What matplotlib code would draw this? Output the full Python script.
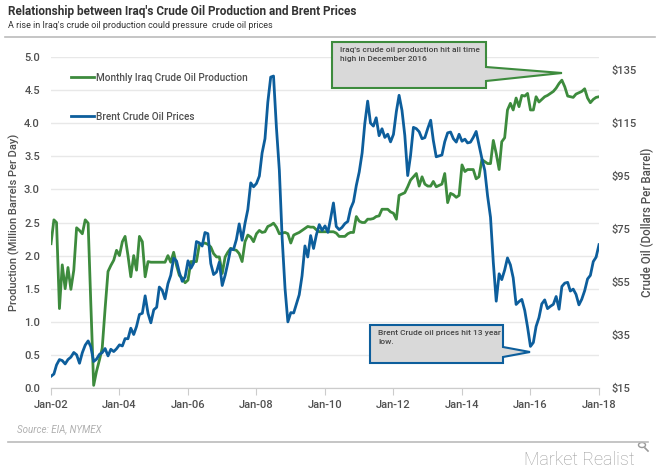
import matplotlib
matplotlib.use("Agg")
import matplotlib.pyplot as plt
import matplotlib.dates as mdates
from matplotlib.patches import Polygon, Circle
import pandas as pd

# ---- data (monthly, Jan-2002 .. Jan-2018) ----
months = pd.date_range("2002-01-01", "2018-01-01", freq="MS")

# Iraq crude oil production, million barrels per day
iraq_prod = [
    2.18, 2.54, 2.50, 1.20, 1.86, 1.50, 1.82, 1.49, 1.78, 2.42, 2.38, 2.33,  # 2002
    2.54, 2.49, 1.30, 0.04, 0.25, 0.42, 0.60, 1.20, 1.76, 1.85, 1.93, 2.08,  # 2003
    2.00, 2.21, 2.29, 2.00, 1.68, 2.00, 1.78, 2.29, 2.21, 1.68, 1.91, 1.90,  # 2004
    1.90, 1.90, 1.90, 1.90, 1.90, 2.00, 1.90, 2.05, 1.85, 1.70, 1.66, 1.59,  # 2005
    1.63, 1.91, 1.91, 1.91, 2.16, 2.18, 2.19, 2.17, 2.13, 2.03, 1.98, 1.98,  # 2006
    1.73, 1.98, 2.05, 2.11, 2.09, 2.08, 2.03, 1.91, 2.21, 2.31, 2.28, 2.21,  # 2007
    2.33, 2.38, 2.35, 2.36, 2.44, 2.46, 2.49, 2.43, 2.33, 2.34, 2.35, 2.33,  # 2008
    2.19, 2.31, 2.33, 2.35, 2.38, 2.41, 2.44, 2.43, 2.43, 2.39, 2.36, 2.36,  # 2009
    2.36, 2.36, 2.36, 2.36, 2.34, 2.29, 2.29, 2.29, 2.33, 2.35, 2.35, 2.59,  # 2010
    2.52, 2.50, 2.50, 2.55, 2.55, 2.56, 2.59, 2.60, 2.70, 2.70, 2.70, 2.66,  # 2011
    2.64, 2.55, 2.91, 2.93, 2.95, 3.04, 3.14, 3.19, 3.24, 3.05, 3.19, 3.08,  # 2012
    3.05, 3.05, 3.12, 3.04, 3.06, 3.08, 3.24, 2.80, 2.94, 2.92, 2.88, 2.91,  # 2013
    3.37, 3.27, 3.30, 3.30, 3.30, 3.16, 3.19, 3.45, 3.42, 3.39, 3.39, 3.74,  # 2014
    3.54, 3.30, 3.72, 3.78, 4.20, 4.30, 4.20, 4.38, 4.25, 4.42, 4.41, 4.45,  # 2015
    4.20, 4.20, 4.40, 4.32, 4.36, 4.40, 4.42, 4.45, 4.48, 4.53, 4.60, 4.65,  # 2016
    4.55, 4.41, 4.40, 4.39, 4.44, 4.46, 4.48, 4.52, 4.38, 4.31, 4.36, 4.39,  # 2017
    4.40,                                                                    # 2018
]

# Brent crude oil price, dollars per barrel
brent_price = [
    19.42, 20.28, 23.70, 25.73, 25.35, 24.08, 25.74, 26.65, 28.40, 27.54, 24.34, 28.33,
    31.18, 32.77, 30.61, 25.00, 25.86, 27.65, 28.35, 29.89, 27.11, 29.61, 28.75, 29.81,
    31.28, 30.86, 33.63, 33.59, 37.57, 35.18, 38.22, 42.74, 43.20, 49.78, 43.11, 39.60,
    44.51, 45.48, 53.10, 51.88, 48.65, 54.35, 57.52, 63.98, 62.91, 58.54, 55.24, 56.86,
    62.99, 60.21, 62.06, 70.26, 69.78, 68.56, 73.67, 73.23, 61.96, 57.81, 58.76, 62.47,
    53.68, 57.56, 62.05, 67.49, 67.21, 71.05, 76.93, 70.76, 77.17, 82.34, 92.41, 90.93,
    92.18, 94.99, 103.64, 109.07, 122.80, 132.32, 132.72, 113.24, 97.23, 71.58, 52.45, 39.95,
    43.44, 43.32, 46.54, 50.18, 57.30, 68.61, 64.44, 72.51, 67.65, 72.77, 76.66, 74.46,
    76.17, 73.75, 78.83, 84.82, 75.95, 74.76, 75.58, 77.04, 77.84, 82.67, 85.28, 91.45,
    96.52, 103.72, 114.64, 123.26, 114.99, 113.83, 116.97, 110.22, 112.83, 109.55, 110.77, 107.87,
    110.69, 119.33, 125.45, 119.75, 110.34, 95.16, 102.62, 113.36, 112.86, 111.71, 109.06, 109.49,
    112.96, 116.05, 108.47, 102.25, 102.56, 102.92, 107.93, 111.28, 111.60, 109.08, 107.79, 110.76,
    108.12, 108.90, 107.48, 107.76, 109.54, 111.80, 106.77, 101.61, 97.09, 87.43, 79.44, 62.34,
    47.76, 58.10, 55.89, 59.52, 64.08, 61.48, 56.56, 46.52, 47.62, 48.43, 44.27, 38.01,
    30.70, 32.18, 38.21, 41.58, 46.74, 48.25, 44.95, 45.84, 46.57, 49.52, 44.73, 53.31,
    54.58, 54.87, 51.59, 52.31, 50.33, 46.37, 48.48, 51.70, 56.15, 57.51, 62.71, 64.37,
    69.08,
]

left_ticks = [0.0, 0.5, 1.0, 1.5, 2.0, 2.5, 3.0, 3.5, 4.0, 4.5, 5.0]
right_ticks = [15, 35, 55, 75, 95, 115, 135]
x_ticks = pd.date_range("2002-01-01", "2018-01-01", freq="24MS")

GREEN = "#3d8b3d"
BLUE = "#0d5e9c"
TXT = "#505050"
GRID = "#e8e8e8"

plt.rcParams["font.family"] = ["Roboto", "DejaVu Sans"]

W, H = 660, 473
fig = plt.figure(figsize=(W / 100, H / 100), dpi=100)


def px(x, y):
    """pixel coords (top-left origin) -> figure fraction"""
    return x / W, 1 - y / H


# ---- axes ----
l, b = px(51, 388)
r, t = px(599, 57)
ax = fig.add_axes([l, b, r - l, t - b])
ax2 = ax.twinx()

ax.plot(months, iraq_prod, color=GREEN, lw=2.0, label="Monthly Iraq Crude Oil Production", zorder=3)
ax2.plot(months, brent_price, color=BLUE, lw=2.0, label="Brent Crude Oil Prices", zorder=3)

ax.set_ylim(0, 5)
ax.set_yticks(left_ticks)
ax.set_yticklabels([f"{v:.1f}" for v in left_ticks])
ax2.set_ylim(15, 15 + 120 * 331 / 318)
ax2.set_yticks(right_ticks)
ax2.set_yticklabels([f"${v}" for v in right_ticks])

ax.set_xlim(months[0], months[-1])
ax.set_xticks(x_ticks)
ax.xaxis.set_major_formatter(mdates.DateFormatter("%b-%y"))

ax.grid(axis="y", color=GRID, lw=1)
ax.set_axisbelow(True)
for a in (ax, ax2):
    for s in ("top", "left", "right"):
        a.spines[s].set_visible(False)
    a.spines["bottom"].set_color("#cccccc")
ax.tick_params(axis="y", length=0, labelsize=8, colors=TXT, pad=8)
ax2.tick_params(axis="y", length=0, labelsize=8, colors=TXT, pad=9)
ax.tick_params(axis="x", length=5, color="#cccccc", labelsize=8, colors=TXT, pad=4)
for lab in ax.get_xticklabels() + ax.get_yticklabels() + ax2.get_yticklabels():
    lab.set_fontweight("medium")

ax.set_ylabel("Production (Million Barrels Per Day)", fontsize=8, color=TXT,
              labelpad=3, fontweight="medium")
ax2.set_ylabel("Crude Oil (Dollars Per Barrel)", fontsize=8.3, color=TXT,
               labelpad=3, fontweight="medium")

# legend (two entries spaced apart, top-left)
h1, lab1 = ax.get_legend_handles_labels()
h2, lab2 = ax2.get_legend_handles_labels()
leg = ax.legend(h1 + h2, lab1 + lab2, loc="upper left", bbox_to_anchor=(0.02, 0.98),
                frameon=False, fontsize=7.2, labelspacing=2.9, handlelength=2.3,
                handletextpad=0.2, labelcolor=TXT)
for txt in leg.get_texts():
    txt.set_fontweight("medium")

# ---- callout boxes ----
def callout(box, wedge, tip, edge, text):
    x0, y0, x1, y1 = box
    pts = [(x0, y0), (x1, y0), (x1, wedge[0]), tip, (x1, wedge[1]), (x1, y1), (x0, y1)]
    poly = Polygon([px(*p) for p in pts], closed=True, transform=fig.transFigure,
                   facecolor="#d9d9d9", edgecolor=edge, lw=1.5, zorder=10)
    fig.patches.append(poly)
    fig.text(*px(x0 + 8, y0 + 5), text, fontsize=6.0, color="#444444", va="top", ha="left",
             linespacing=1.5, zorder=11, fontweight="medium")


callout((332, 42, 486, 88), (67, 81), (562, 73), GREEN,
        "Iraq's crude oil production hit all time\nhigh in December 2016")
callout((370, 325, 503, 363), (347, 357), (530, 352), BLUE,
        "Brent Crude oil prices hit 13 year\nlow.")

# ---- titles, source, branding ----
fig.text(*px(8, 12), "Relationship between Iraq's Crude Oil Production and Brent Prices",
         fontsize=8.5, fontweight="bold", color="#333333", va="center")
fig.text(*px(8, 25), "A rise in Iraq's crude oil production could pressure  crude oil prices",
         fontsize=6.5, color="#333333", va="center")
fig.add_artist(plt.Line2D([5 / W, 655 / W], [1 - 37 / H, 1 - 37 / H], color="#bbbbbb", lw=1.2))
fig.add_artist(plt.Line2D([8 / W, 648 / W], [1 - 442 / H, 1 - 442 / H], color="#bbbbbb", lw=1.2))
fig.text(*px(17, 429), "Source: EIA, NYMEX", fontsize=7, style="italic", color="#b0b0b0", va="center")
fig.text(*px(635, 460), "Market Realist", fontsize=13, color="#9a9a9a", va="center", ha="right",
         fontweight="light")
# small magnifier next to the brand name
cx, cy = px(642, 445)
fig.patches.append(Circle((cx, cy), 3.5 / W, transform=fig.transFigure, fill=False,
                          edgecolor="#9a9a9a", lw=1.0))
fig.add_artist(plt.Line2D([645 / W, 648 / W], [1 - 448 / H, 1 - 451 / H], color="#9a9a9a", lw=1.2))

fig.savefig("out.png", dpi=100)
